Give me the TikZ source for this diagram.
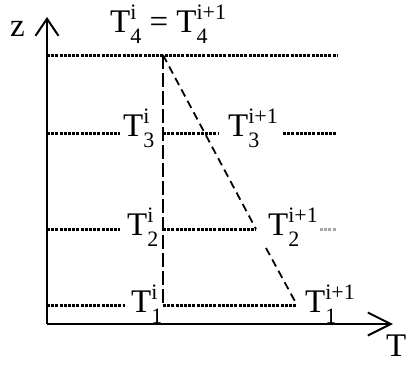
\documentclass[tikz,border=0pt]{standalone}
\usepackage{fontspec}
\setmainfont{Liberation Serif}
\usetikzlibrary{arrows.meta}
\newcommand\SubSup[2]{\mbox{\fontsize{22}{22}\selectfont\sbox0{#1}\sbox2{#2}\raisebox{12.5pt}{\rlap{#2}}\raisebox{-11pt}{\rlap{#1}}\hspace{\ifdim\wd0>\wd2 \wd0\else\wd2\fi}}}
\newcommand\TT[2]{T\SubSup{#1}{#2}}
\tikzset{
  lab/.style={inner sep=0pt, anchor=base west, font=\fontsize{33}{40}\selectfont},
  axis/.style={line width=2pt},
  lvl/.style={line width=3pt, dash pattern=on 3pt off 1.2pt},
  faint/.style={lvl, draw=black!35},
  vdash/.style={line width=2.5pt, dash pattern=on 14pt off 4pt},
  sdash/.style={line width=1.8pt, dash pattern=on 8pt off 5pt},
}
\begin{document}
\begin{tikzpicture}[x=1pt,y=-1pt]
\useasboundingbox (0,0) rectangle (410,365);
% axes
\coordinate (O) at (47,324);
\coordinate (Ztip) at (47,17);
\coordinate (Ttip) at (393,324);
\draw[axis, -{Straight Barb[length=17pt,width=23pt,line width=2pt]}] (O) -- (Ztip);
\draw[axis, -{Straight Barb[length=23pt,width=23pt,line width=2pt]}] (O) -- (Ttip);
\node[lab] (zl) at (10,36) {z};
\node[lab] (tl) at (386,356) {T};
% labels
\node[lab] (t4) at (110,32) {\TT{4}{i} = \TT{4}{i+1}};
\node[lab] (t3a) at (123,136) {\TT{3}{i}};
\node[lab] (t3b) at (228,136) {\TT{3}{i+1}};
\node[lab] (t2a) at (127,235) {\TT{2}{i}};
\node[lab] (t2b) at (268,235) {\TT{2}{i+1}};
\node[lab] (t1a) at (131,312) {\TT{1}{i}};
\node[lab] (t1b) at (305,312) {\TT{1}{i+1}};
% level coordinates
\coordinate (a4) at (47,55);  \coordinate (top) at (163,55); \coordinate (b4) at (337,55);
\coordinate (a3) at (47,133); \coordinate (c3) at (120,133); \coordinate (d3) at (163,133); \coordinate (e3) at (218,133); \coordinate (f3) at (283,133); \coordinate (g3) at (336,133);
\coordinate (a2) at (47,229); \coordinate (c2) at (120,229); \coordinate (d2) at (163,229); \coordinate (e2) at (256,229); \coordinate (f2) at (320,229); \coordinate (g2) at (336,229);
\coordinate (a1) at (47,305); \coordinate (c1) at (125,305); \coordinate (bot) at (163,305); \coordinate (e1) at (297,305);
\coordinate (s2) at (266,248);
% dotted levels
\draw[lvl] (a4) -- (b4);
\draw[lvl] (a3) -- (c3);
\draw[lvl] (d3) -- (e3);
\draw[lvl] (f3) -- (g3);
\draw[lvl] (a2) -- (c2);
\draw[lvl] (d2) -- (e2);
\draw[faint] (f2) -- (g2);
\draw[lvl] (a1) -- (c1);
\draw[lvl] (bot) -- (e1);
% profiles
\draw[vdash] (top) -- (bot);
\draw[sdash] (top) -- (e2);
\draw[sdash] (s2) -- (e1);
\end{tikzpicture}
\end{document}
